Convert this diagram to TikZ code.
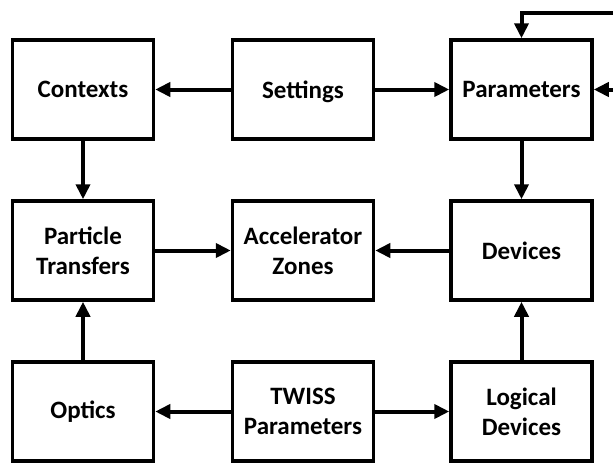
\documentclass[tikz,border=0pt]{standalone}
\usepackage{fontspec}
\setmainfont{Carlito}
\usetikzlibrary{arrows.meta}
\tikzset{
  box/.style={draw=black, line width=3.5pt, minimum width=141pt, minimum height=99pt,
    inner sep=0pt, align=center, font=\fontsize{25}{30}\selectfont\bfseries, fill=white},
  conn/.style={line width=4pt, -{Triangle[length=15pt,width=14pt]}},
}
\begin{document}
\begin{tikzpicture}[x=1pt,y=-1pt]
\useasboundingbox (0,0) rectangle (613,464);
\node[box] (ctx) at (83,89.5) {Contexts};
\node[box] (set) at (303,89.5) {\raisebox{0pt}[\height][0pt]{Settings}};
\node[box] (par) at (521.5,89.5) {Parameters};
\node[box] (pt) at (83,250.5) {Particle\\Transfers};
\node[box] (az) at (303,250.5) {Accelerator\\Zones};
\node[box] (dev) at (521.5,250.5) {Devices};
\node[box] (opt) at (83,411.5) {Optics};
\node[box] (tw) at (303,411.5) {TWISS\\Parameters};
\node[box] (ld) at (521.5,411.5) {Logical\\Devices};
\coordinate (tr) at (614,13);
\coordinate (re) at (614,89.5);
\draw[conn] (set) -- (ctx);
\draw[conn] (set) -- (par);
\draw[conn] (ctx) -- (pt);
\draw[conn] (pt) -- (az);
\draw[conn] (dev) -- (az);
\draw[conn] (par) -- (dev);
\draw[conn] (ld) -- (dev);
\draw[conn] (opt) -- (pt);
\draw[conn] (tw) -- (opt);
\draw[conn] (tw) -- (ld);
\draw[conn] (tr) -| (par.north);
\draw[conn] (re) -- (par.east);
\end{tikzpicture}
\end{document}
